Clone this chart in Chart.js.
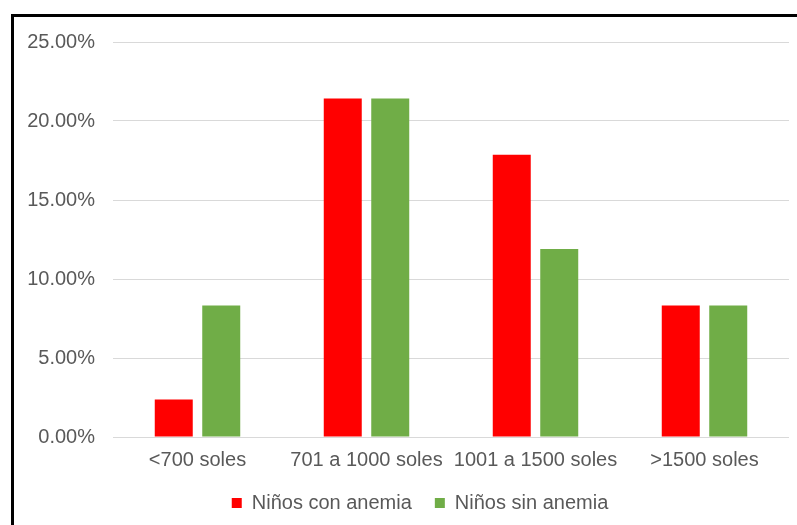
<!DOCTYPE html>
<html>
<head>
<meta charset="utf-8">
<script src="https://cdn.jsdelivr.net/npm/chart.js@4/dist/chart.umd.min.js"></script>
<style>
  html, body { margin: 0; padding: 0; background: #fff; overflow: hidden; width: 797px; height: 525px; }
  #frame { position: absolute; left: 11px; top: 14px; width: 2000px; height: 2000px; border: 3px solid #000; box-sizing: border-box; }
  #c { position: absolute; left: 0; top: 0; }
</style>
</head>
<body>
<div id="frame"></div>
<canvas id="c" width="797" height="525"></canvas>
<script>
const categories = ['<700 soles', '701 a 1000 soles', '1001 a 1500 soles', '>1500 soles'];
const seriesNames = ['Niños con anemia', 'Niños sin anemia'];
const conAnemia = [2.38, 21.43, 17.86, 8.33];
const sinAnemia = [8.33, 21.43, 11.90, 8.33];
const yTicks = [0, 5, 10, 15, 20, 25];

const FONT = { family: '"Liberation Sans", Arial, sans-serif', size: 20 };
const TXT = '#595959';

const shiftLegend = {
  id: 'shiftLegend',
  afterLayout(chart) {
    const l = chart.legend;
    if (l) { l.left += 25.5; l.right += 25.5; }
  }
};

new Chart(document.getElementById('c'), {
  type: 'bar',
  data: {
    labels: categories,
    datasets: [
      { label: seriesNames[0], data: conAnemia, backgroundColor: '#FF0000', categoryPercentage: 0.562, barPercentage: 0.8 },
      { label: seriesNames[1], data: sinAnemia, backgroundColor: '#70AD47', categoryPercentage: 0.562, barPercentage: 0.8 }
    ]
  },
  plugins: [shiftLegend],
  options: {
    responsive: false,
    devicePixelRatio: 1,
    animation: false,
    layout: { padding: { left: 0, right: 8, top: 42, bottom: 2 } },
    plugins: {
      tooltip: { enabled: false },
      legend: {
        position: 'bottom',
        labels: { boxWidth: 10, boxHeight: 10, padding: 23, color: TXT, font: FONT }
      }
    },
    scales: {
      x: {
        grid: { display: false, drawTicks: false },
        border: { display: false },
        ticks: { color: TXT, font: FONT, padding: 11, maxRotation: 0, autoSkip: false },
        afterFit: s => { s.height = 33; }
      },
      y: {
        min: 0, max: yTicks[yTicks.length - 1],
        afterBuildTicks: s => { s.ticks = yTicks.map(v => ({ value: v })); },
        grid: { color: '#d9d9d9', lineWidth: 1, drawTicks: false },
        border: { display: false },
        ticks: { color: TXT, font: FONT, padding: 18, callback: v => v.toFixed(2) + '%' },
        afterFit: s => { s.width = 113; }
      }
    }
  }
});
</script>
</body>
</html>
